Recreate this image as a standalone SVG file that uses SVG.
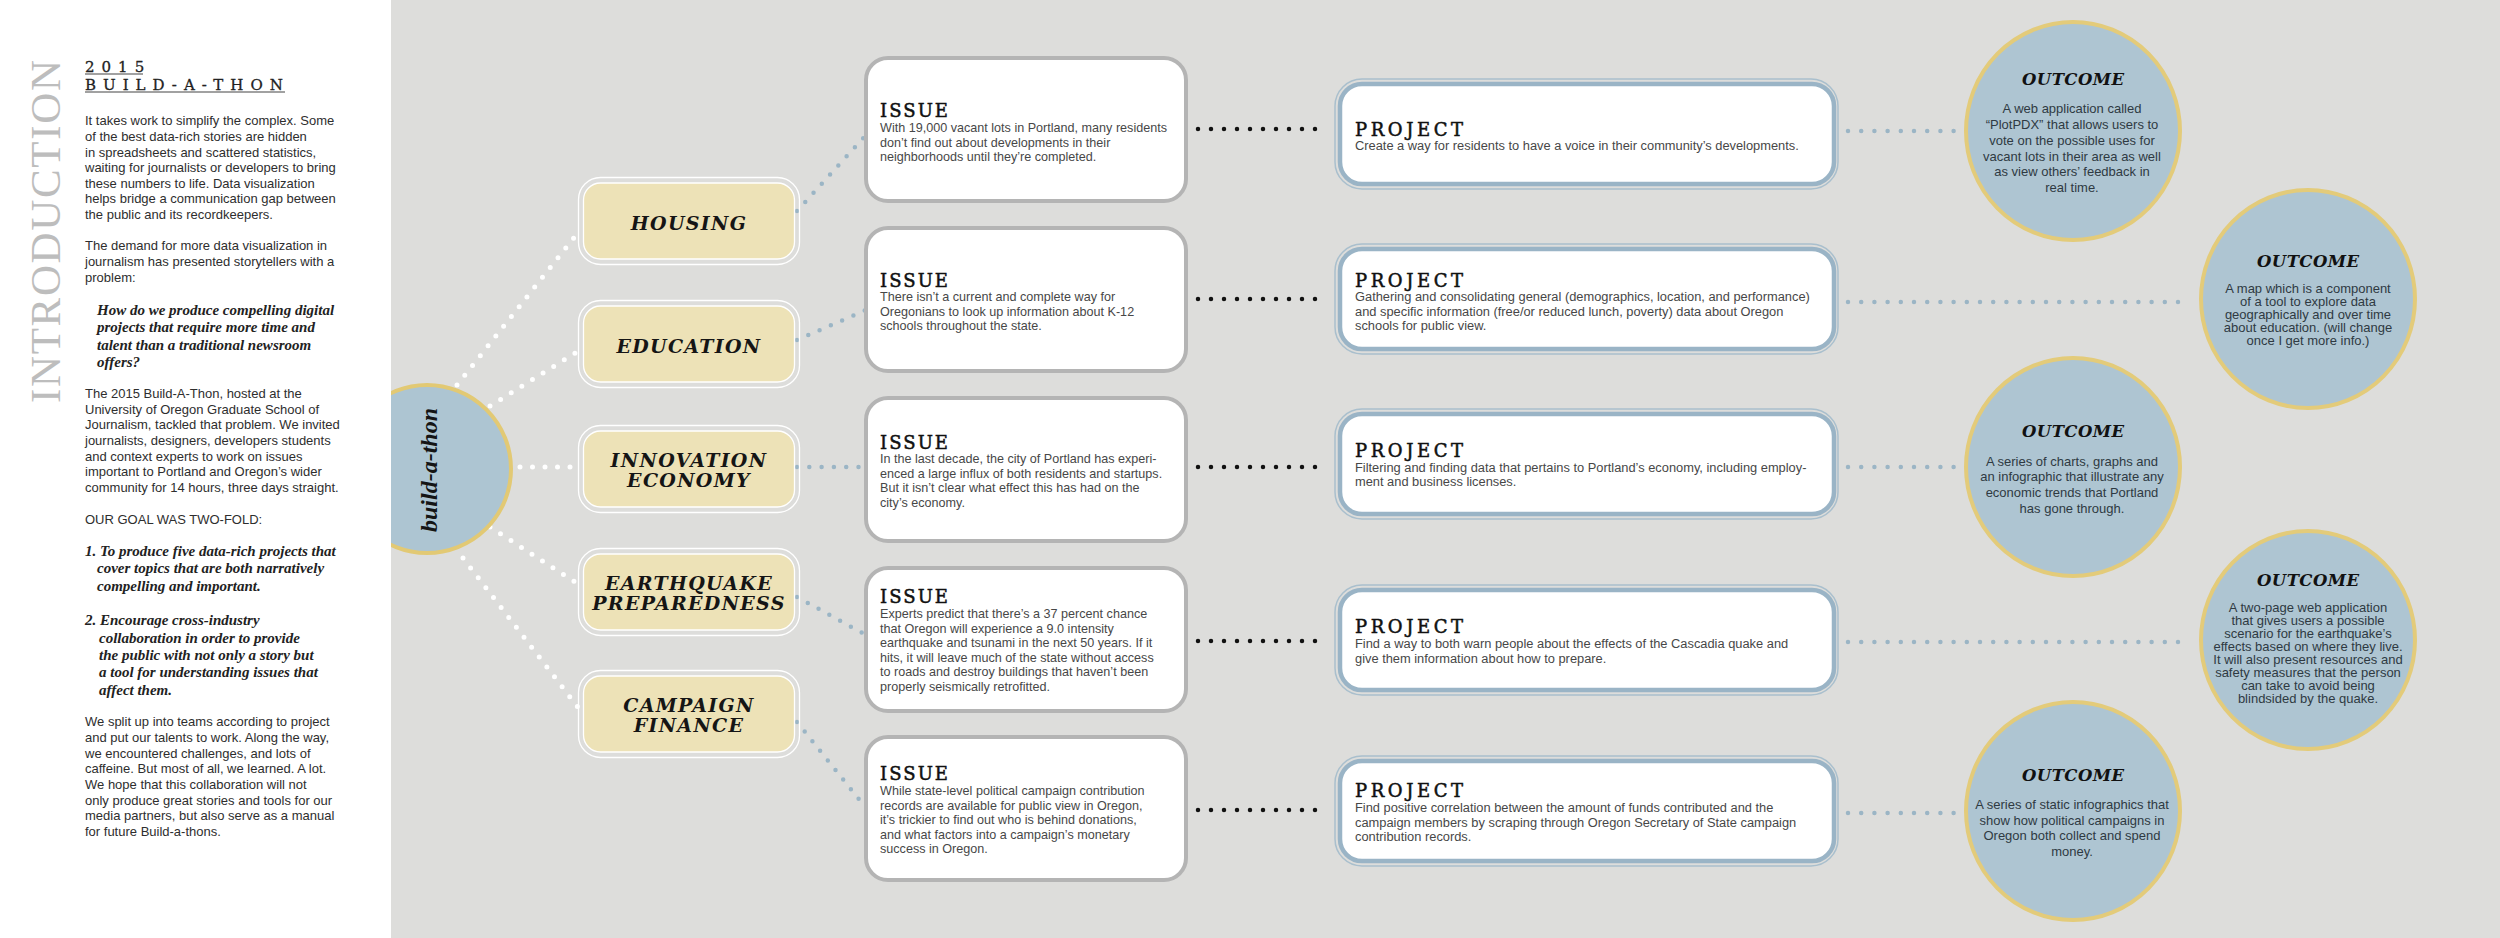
<svg xmlns="http://www.w3.org/2000/svg" width="2500" height="938" viewBox="0 0 2500 938">
<style>
.bg{fill:#dddddb}
.panel{fill:#ffffff}
.intro-v{font-family:"Liberation Serif",serif;font-size:43px;fill:#bdbdbd;letter-spacing:3px}
.hd{font-family:"DejaVu Serif",serif;font-size:15px;fill:#222;letter-spacing:7px;stroke:#222;stroke-width:0.3}
.ul{stroke:#444;stroke-width:1.2}
.p{font-family:"Liberation Sans",Arial,sans-serif;font-size:13px;fill:#2e2e2e}
.q{font-family:"Liberation Serif",serif;font-style:italic;font-weight:bold;font-size:15px;fill:#222}
.hub{fill:#adc5d2;stroke:#e2c974;stroke-width:4}
.hub-t{font-family:"Liberation Serif",serif;font-style:italic;font-weight:bold;font-size:24px;fill:#151515;text-anchor:middle}
.cat-fill{fill:#ede2b7;stroke:#ffffff;stroke-width:1.3}
.cat-ring{fill:none;stroke:#ffffff;stroke-width:1.3}
.cat-t{font-family:"DejaVu Serif",serif;font-style:italic;font-weight:bold;font-size:19px;letter-spacing:1.3px;fill:#151515;text-anchor:middle}
.issue{fill:#ffffff;stroke:#b4b4b4;stroke-width:4}
.ttl{font-family:"DejaVu Serif",serif;font-size:18px;letter-spacing:2px;fill:#111;stroke:#111;stroke-width:0.5}
.body{font-family:"Liberation Sans",Arial,sans-serif;font-size:12.6px;fill:#474747}
.pbody{font-family:"Liberation Sans",Arial,sans-serif;font-size:12.85px;fill:#474747}
.proj{fill:#ffffff;stroke:#9ab4c6;stroke-width:4.5}
.proj-ring{fill:none;stroke:#a9bfcd;stroke-width:1.5}
.out{fill:#aec5d2;stroke:#e3cb7a;stroke-width:4}
.out-t{font-family:"DejaVu Serif",serif;font-style:italic;font-weight:bold;font-size:16.5px;fill:#111;text-anchor:middle}
.out-b{font-family:"Liberation Sans",Arial,sans-serif;font-size:13px;fill:#2f3a42;text-anchor:middle}
.dw{fill:none;stroke:#ffffff;stroke-width:5;stroke-linecap:round;stroke-dasharray:0 12.5}
.db{fill:none;stroke:#9bb5c5;stroke-width:4.5;stroke-linecap:round;stroke-dasharray:0 12.3}
.dbo{fill:none;stroke:#9bb5c5;stroke-width:4.5;stroke-linecap:round;stroke-dasharray:0 13.2}
.dk{fill:none;stroke:#111111;stroke-width:4.5;stroke-linecap:round;stroke-dasharray:0 13}
</style>
<defs>
<clipPath id="rightOfPanel"><rect x="391" y="0" width="2109" height="938"/></clipPath>
</defs>
<rect class="bg" x="0" y="0" width="2500" height="938"/>

<g id="introduction">
<rect class="panel" x="0" y="0" width="391" height="938"/>
<text class="intro-v" transform="translate(60,403) rotate(-90)" textLength="346">INTRODUCTION</text>
<text class="hd" x="85" y="72">2015</text>
<line class="ul" x1="85" y1="74" x2="143" y2="74"/>
<text class="hd" x="85" y="90">BUILD-A-THON</text>
<line class="ul" x1="85" y1="92" x2="285" y2="92"/>
<text class="p" x="85" y="125.3">It takes work to simplify the complex. Some</text>
<text class="p" x="85" y="141">of the best data-rich stories are hidden</text>
<text class="p" x="85" y="156.5">in spreadsheets and scattered statistics,</text>
<text class="p" x="85" y="172">waiting for journalists or developers to bring</text>
<text class="p" x="85" y="187.7">these numbers to life. Data visualization</text>
<text class="p" x="85" y="203">helps bridge a communication gap between</text>
<text class="p" x="85" y="219">the public and its recordkeepers.</text>
<text class="p" x="85" y="250.3">The demand for more data visualization in</text>
<text class="p" x="85" y="266">journalism has presented storytellers with a</text>
<text class="p" x="85" y="281.7">problem:</text>
<text class="q" x="97" y="315">How do we produce compelling digital</text>
<text class="q" x="97" y="332.3">projects that require more time and</text>
<text class="q" x="97" y="349.7">talent than a traditional newsroom</text>
<text class="q" x="97" y="367">offers?</text>
<text class="p" x="85" y="398">The 2015 Build-A-Thon, hosted at the</text>
<text class="p" x="85" y="413.7">University of Oregon Graduate School of</text>
<text class="p" x="85" y="429.3">Journalism, tackled that problem. We invited</text>
<text class="p" x="85" y="445">journalists, designers, developers students</text>
<text class="p" x="85" y="460.7">and context experts to work on issues</text>
<text class="p" x="85" y="476.3">important to Portland and Oregon’s wider</text>
<text class="p" x="85" y="492">community for 14 hours, three days straight.</text>
<text class="p" x="85" y="523.7">OUR GOAL WAS TWO-FOLD:</text>
<text class="q" x="85" y="556">1. To produce five data-rich projects that</text>
<text class="q" x="97" y="573.3">cover topics that are both narratively</text>
<text class="q" x="97" y="590.7">compelling and important.</text>
<text class="q" x="85" y="625.3">2. Encourage cross-industry</text>
<text class="q" x="99" y="642.7">collaboration in order to provide</text>
<text class="q" x="99" y="660">the public with not only a story but</text>
<text class="q" x="99" y="677.3">a tool for understanding issues that</text>
<text class="q" x="99" y="694.7">affect them.</text>
<text class="p" x="85" y="726.3">We split up into teams according to project</text>
<text class="p" x="85" y="742">and put our talents to work. Along the way,</text>
<text class="p" x="85" y="757.7">we encountered challenges, and lots of</text>
<text class="p" x="85" y="773.3">caffeine. But most of all, we learned. A lot.</text>
<text class="p" x="85" y="789">We hope that this collaboration will not</text>
<text class="p" x="85" y="804.7">only produce great stories and tools for our</text>
<text class="p" x="85" y="820.3">media partners, but also serve as a manual</text>
<text class="p" x="85" y="836">for future Build-a-thons.</text>
</g>

<g id="connectors">
<path class="dw" d="M457,385 L580,230"/>
<path class="dw" d="M490,406 L580,350"/>
<path class="dw" d="M520,467 L578,467"/>
<path class="dw" d="M490,527 L578,584"/>
<path class="dw" d="M463,558 L580,710"/>
<path class="db" d="M797,211 L866,135"/>
<path class="db" d="M797,340 L866,310"/>
<path class="db" d="M797,467 L866,467"/>
<path class="db" d="M797,597 L866,635"/>
<path class="db" d="M797,722 L866,808"/>
<path class="dk" d="M1198,129 L1328,129"/>
<path class="dk" d="M1198,299 L1328,299"/>
<path class="dk" d="M1198,467 L1328,467"/>
<path class="dk" d="M1198,641 L1328,641"/>
<path class="dk" d="M1198,810 L1328,810"/>
<path class="dbo" d="M1848,131 L1954,131"/>
<path class="dbo" d="M1848,302 L2190,302"/>
<path class="dbo" d="M1848,467 L1965,467"/>
<path class="dbo" d="M1848,642 L2190,642"/>
<path class="dbo" d="M1848,813 L1961,813"/>
</g>

<g id="build-a-thon" clip-path="url(#rightOfPanel)">
<circle class="hub" cx="427" cy="469" r="84"/>
<text class="hub-t" transform="translate(437,470) rotate(-90)">build-a-thon</text>
</g>

<g id="cat-housing">
<rect class="cat-ring" x="578.5" y="177.5" width="221" height="87" rx="22"/>
<rect class="cat-fill" x="583.5" y="183" width="211" height="76" rx="17"/>
<text class="cat-t" x="689" y="230">HOUSING</text>
</g>
<g id="cat-education">
<rect class="cat-ring" x="578.5" y="300.5" width="221" height="87" rx="22"/>
<rect class="cat-fill" x="583.5" y="306" width="211" height="76" rx="17"/>
<text class="cat-t" x="689" y="353">EDUCATION</text>
</g>
<g id="cat-innovation">
<rect class="cat-ring" x="578.5" y="425.5" width="221" height="87" rx="22"/>
<rect class="cat-fill" x="583.5" y="431" width="211" height="76" rx="17"/>
<text class="cat-t" x="689" y="467">INNOVATION</text>
<text class="cat-t" x="689" y="487">ECONOMY</text>
</g>
<g id="cat-earthquake">
<rect class="cat-ring" x="578.5" y="548.5" width="221" height="87" rx="22"/>
<rect class="cat-fill" x="583.5" y="554" width="211" height="76" rx="17"/>
<text class="cat-t" x="689" y="590">EARTHQUAKE</text>
<text class="cat-t" x="689" y="610">PREPAREDNESS</text>
</g>
<g id="cat-campaign">
<rect class="cat-ring" x="578.5" y="670.5" width="221" height="87" rx="22"/>
<rect class="cat-fill" x="583.5" y="676" width="211" height="76" rx="17"/>
<text class="cat-t" x="689" y="712">CAMPAIGN</text>
<text class="cat-t" x="689" y="732">FINANCE</text>
</g>

<g id="issue-1">
<rect class="issue" x="866" y="58" width="320" height="143" rx="22"/>
<text class="ttl" x="880" y="117" textLength="70">ISSUE</text>
<text class="body" x="880" y="132">With 19,000 vacant lots in Portland, many residents</text>
<text class="body" x="880" y="146.5">don’t find out about developments in their</text>
<text class="body" x="880" y="161">neighborhoods until they’re completed.</text>
</g>
<g id="issue-2">
<rect class="issue" x="866" y="228" width="320" height="143" rx="22"/>
<text class="ttl" x="880" y="287" textLength="70">ISSUE</text>
<text class="body" x="880" y="301">There isn’t a current and complete way for</text>
<text class="body" x="880" y="315.5">Oregonians to look up information about K-12</text>
<text class="body" x="880" y="330">schools throughout the state.</text>
</g>
<g id="issue-3">
<rect class="issue" x="866" y="398" width="320" height="143" rx="22"/>
<text class="ttl" x="880" y="449" textLength="70">ISSUE</text>
<text class="body" x="880" y="463">In the last decade, the city of Portland has experi-</text>
<text class="body" x="880" y="478">enced a large influx of both residents and startups.</text>
<text class="body" x="880" y="492">But it isn’t clear what effect this has had on the</text>
<text class="body" x="880" y="507">city’s economy.</text>
</g>
<g id="issue-4">
<rect class="issue" x="866" y="568" width="320" height="143" rx="22"/>
<text class="ttl" x="880" y="603" textLength="70">ISSUE</text>
<text class="body" x="880" y="618">Experts predict that there’s a 37 percent chance</text>
<text class="body" x="880" y="632.5">that Oregon will experience a 9.0 intensity</text>
<text class="body" x="880" y="647">earthquake and tsunami in the next 50 years. If it</text>
<text class="body" x="880" y="661.5">hits, it will leave much of the state without access</text>
<text class="body" x="880" y="676">to roads and destroy buildings that haven’t been</text>
<text class="body" x="880" y="690.5">properly seismically retrofitted.</text>
</g>
<g id="issue-5">
<rect class="issue" x="866" y="737" width="320" height="143" rx="22"/>
<text class="ttl" x="880" y="780" textLength="70">ISSUE</text>
<text class="body" x="880" y="795">While state-level political campaign contribution</text>
<text class="body" x="880" y="809.5">records are available for public view in Oregon,</text>
<text class="body" x="880" y="824">it’s trickier to find out who is behind donations,</text>
<text class="body" x="880" y="838.5">and what factors into a campaign’s monetary</text>
<text class="body" x="880" y="853">success in Oregon.</text>
</g>

<g id="project-1">
<rect class="proj-ring" x="1335" y="79" width="503" height="110" rx="27"/>
<rect class="proj" x="1340" y="84" width="494" height="100" rx="22"/>
<text class="ttl" x="1355" y="136" textLength="110">PROJECT</text>
<text class="pbody" x="1355" y="150">Create a way for residents to have a voice in their community’s developments.</text>
</g>
<g id="project-2">
<rect class="proj-ring" x="1335" y="244" width="503" height="110" rx="27"/>
<rect class="proj" x="1340" y="249" width="494" height="100" rx="22"/>
<text class="ttl" x="1355" y="287" textLength="110">PROJECT</text>
<text class="pbody" x="1355" y="301">Gathering and consolidating general (demographics, location, and performance)</text>
<text class="pbody" x="1355" y="316">and specific information (free/or reduced lunch, poverty) data about Oregon</text>
<text class="pbody" x="1355" y="330">schools for public view.</text>
</g>
<g id="project-3">
<rect class="proj-ring" x="1335" y="409" width="503" height="110" rx="27"/>
<rect class="proj" x="1340" y="414" width="494" height="100" rx="22"/>
<text class="ttl" x="1355" y="457" textLength="110">PROJECT</text>
<text class="pbody" x="1355" y="472">Filtering and finding data that pertains to Portland’s economy, including employ-</text>
<text class="pbody" x="1355" y="486">ment and business licenses.</text>
</g>
<g id="project-4">
<rect class="proj-ring" x="1335" y="585" width="503" height="110" rx="27"/>
<rect class="proj" x="1340" y="590" width="494" height="100" rx="22"/>
<text class="ttl" x="1355" y="633" textLength="110">PROJECT</text>
<text class="pbody" x="1355" y="648">Find a way to both warn people about the effects of the Cascadia quake and</text>
<text class="pbody" x="1355" y="663">give them information about how to prepare.</text>
</g>
<g id="project-5">
<rect class="proj-ring" x="1335" y="756" width="503" height="110" rx="27"/>
<rect class="proj" x="1340" y="761" width="494" height="100" rx="22"/>
<text class="ttl" x="1355" y="797" textLength="110">PROJECT</text>
<text class="pbody" x="1355" y="812">Find positive correlation between the amount of funds contributed and the</text>
<text class="pbody" x="1355" y="826.5">campaign members by scraping through Oregon Secretary of State campaign</text>
<text class="pbody" x="1355" y="841">contribution records.</text>
</g>

<g id="outcome-1">
<ellipse class="out" cx="2073" cy="131" rx="107" ry="109"/>
<text class="out-t" x="2073" y="85" textLength="102">OUTCOME</text>
<text class="out-b" x="2072" y="113">A web application called</text>
<text class="out-b" x="2072" y="129">“PlotPDX” that allows users to</text>
<text class="out-b" x="2072" y="145">vote on the possible uses for</text>
<text class="out-b" x="2072" y="160.5">vacant lots in their area as well</text>
<text class="out-b" x="2072" y="176">as view others’ feedback in</text>
<text class="out-b" x="2072" y="192">real time.</text>
</g>
<g id="outcome-2">
<ellipse class="out" cx="2308" cy="299" rx="107" ry="109"/>
<text class="out-t" x="2308" y="267" textLength="102">OUTCOME</text>
<text class="out-b" x="2308" y="293">A map which is a component</text>
<text class="out-b" x="2308" y="306">of a tool to explore data</text>
<text class="out-b" x="2308" y="319">geographically and over time</text>
<text class="out-b" x="2308" y="332">about education. (will change</text>
<text class="out-b" x="2308" y="345">once I get more info.)</text>
</g>
<g id="outcome-3">
<ellipse class="out" cx="2073" cy="467" rx="107" ry="109"/>
<text class="out-t" x="2073" y="437" textLength="102">OUTCOME</text>
<text class="out-b" x="2072" y="465.5">A series of charts, graphs and</text>
<text class="out-b" x="2072" y="481">an infographic that illustrate any</text>
<text class="out-b" x="2072" y="497">economic trends that Portland</text>
<text class="out-b" x="2072" y="513">has gone through.</text>
</g>
<g id="outcome-4">
<ellipse class="out" cx="2308" cy="640" rx="107" ry="109"/>
<text class="out-t" x="2308" y="586" textLength="102">OUTCOME</text>
<text class="out-b" x="2308" y="612">A two-page web application</text>
<text class="out-b" x="2308" y="625">that gives users a possible</text>
<text class="out-b" x="2308" y="638">scenario for the earthquake’s</text>
<text class="out-b" x="2308" y="651">effects based on where they live.</text>
<text class="out-b" x="2308" y="664">It will also present resources and</text>
<text class="out-b" x="2308" y="677">safety measures that the person</text>
<text class="out-b" x="2308" y="690">can take to avoid being</text>
<text class="out-b" x="2308" y="703">blindsided by the quake.</text>
</g>
<g id="outcome-5">
<ellipse class="out" cx="2073" cy="811" rx="107" ry="109"/>
<text class="out-t" x="2073" y="781" textLength="102">OUTCOME</text>
<text class="out-b" x="2072" y="809">A series of static infographics that</text>
<text class="out-b" x="2072" y="825">show how political campaigns in</text>
<text class="out-b" x="2072" y="840">Oregon both collect and spend</text>
<text class="out-b" x="2072" y="856">money.</text>
</g>
</svg>
